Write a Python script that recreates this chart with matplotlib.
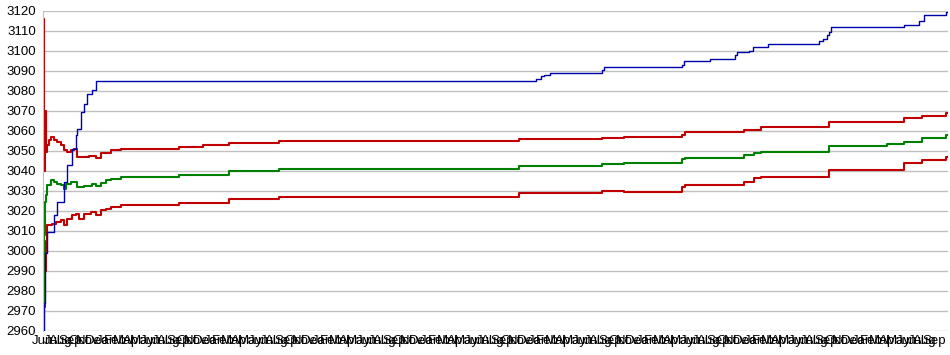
import matplotlib
matplotlib.use("Agg")
import matplotlib.pyplot as plt

plt.rcParams["font.family"] = ["Liberation Sans", "DejaVu Sans"]

# step breakpoints: (position, value)
blue_x = [0, 1, 2, 4, 11, 14, 21, 24, 29, 33, 34, 38, 41, 44, 49, 53, 493, 498, 501,
          507, 559, 561, 639, 641, 667, 692, 694, 706, 710, 725, 776, 780, 784, 786,
          788, 861, 876, 881, 903, 905]
blue_y = [2960, 2974, 2999, 3009.5, 3018, 3024.5, 3034.5, 3043, 3051, 3058, 3061,
          3069.5, 3073.5, 3078.5, 3080.5, 3085, 3086, 3087.5, 3088, 3089, 3090.5, 3092,
          3093, 3095, 3096, 3098, 3099.5, 3100, 3102, 3103.5, 3105, 3106, 3108, 3109.5,
          3112, 3113, 3115, 3118, 3119.5, 3119.5]

upper_x = [0, 1, 2, 3, 4, 6, 8, 11, 14, 18, 21, 24, 28, 31, 34, 39, 46, 53, 58, 68, 78,
           91, 136, 160, 186, 236, 476, 559, 581, 639, 642, 701, 718, 786, 861, 879,
           903, 905]
upper_y = [3116, 3040, 3070, 3049.5, 3053, 3055.5, 3057, 3055.5, 3054.5, 3053, 3050.5,
           3049.5, 3050.5, 3051, 3047, 3047, 3047.5, 3046.5, 3049, 3050.5, 3051, 3051,
           3052, 3053, 3054, 3055, 3056, 3056.5, 3057, 3058, 3059.5, 3060.3, 3061.7,
           3064.5, 3066.2, 3067.3, 3068.7, 3068.7]

green_x = [0, 1, 2, 3, 4, 8, 11, 14, 18, 21, 23, 28, 33, 34, 41, 49, 53, 58, 63, 68,
           78, 91, 136, 186, 236, 476, 559, 581, 639, 642, 701, 711, 718, 786, 844,
           861, 879, 903, 905]
green_y = [2965, 3008, 3024.5, 3028, 3033, 3035.5, 3034.5, 3033.5, 3033, 3031, 3033.5,
           3034.5, 3034.5, 3032, 3032.5, 3033.5, 3032.5, 3034, 3035.5, 3036, 3037, 3037,
           3038, 3040, 3041, 3042.3, 3043.3, 3044, 3045.7, 3046.5, 3048, 3048.7, 3049.5,
           3052.5, 3053.3, 3054.5, 3056.5, 3058, 3058]

lower_x = [0, 1, 2, 3, 4, 9, 13, 18, 21, 24, 29, 33, 36, 41, 48, 53, 58, 63, 68, 78,
           91, 136, 186, 236, 476, 559, 581, 639, 642, 701, 711, 718, 786, 861, 879,
           903, 905]
lower_y = [2960, 2972, 2990, 3005, 3013, 3013.5, 3014.5, 3015.5, 3013, 3016, 3018,
           3018.5, 3016, 3018.5, 3019.5, 3018, 3020.5, 3021, 3022, 3023, 3023, 3024,
           3026, 3027, 3028.7, 3029.8, 3029.5, 3032, 3033, 3034.5, 3036.2, 3037, 3040.3,
           3043.7, 3045.3, 3047, 3047]

months = ["Jan", "Feb", "Mar", "Apr", "May", "Jun", "Jul", "Aug", "Sep", "Oct",
          "Nov", "Dec"]
tick_pos = list(range(0, 896, 9))
tick_labels = [months[(5 + i) % 12] for i in range(len(tick_pos))]

fig = plt.figure(figsize=(9.5, 3.55), dpi=100)
ax = fig.add_axes([43 / 950, (355 - 330.5) / 355, 905 / 950, 320 / 355])

ax.plot(upper_x, upper_y, drawstyle="steps-post", color="#c00000", lw=1.5)
ax.plot(lower_x, lower_y, drawstyle="steps-post", color="#c00000", lw=1.5)
ax.plot(green_x, green_y, drawstyle="steps-post", color="#008000", lw=1.5)
ax.plot(blue_x, blue_y, drawstyle="steps-post", color="#0000aa", lw=1.0)

ax.set_xlim(0, 905)
ax.set_ylim(2960, 3120)
ax.set_yticks(range(2960, 3121, 10))
ax.set_xticks(tick_pos)
ax.set_xticklabels(tick_labels)
ax.tick_params(length=0, labelsize=9.5, colors="black")
ax.tick_params(axis="y", pad=5)
ax.tick_params(axis="x", pad=3)

ax.grid(axis="y", color="#c0c0c0", lw=1)
ax.set_axisbelow(True)
for side in ["top", "right", "bottom"]:
    ax.spines[side].set_visible(False)
ax.spines["left"].set_color("#c0c0c0")

fig.savefig("out.png", dpi=100)
